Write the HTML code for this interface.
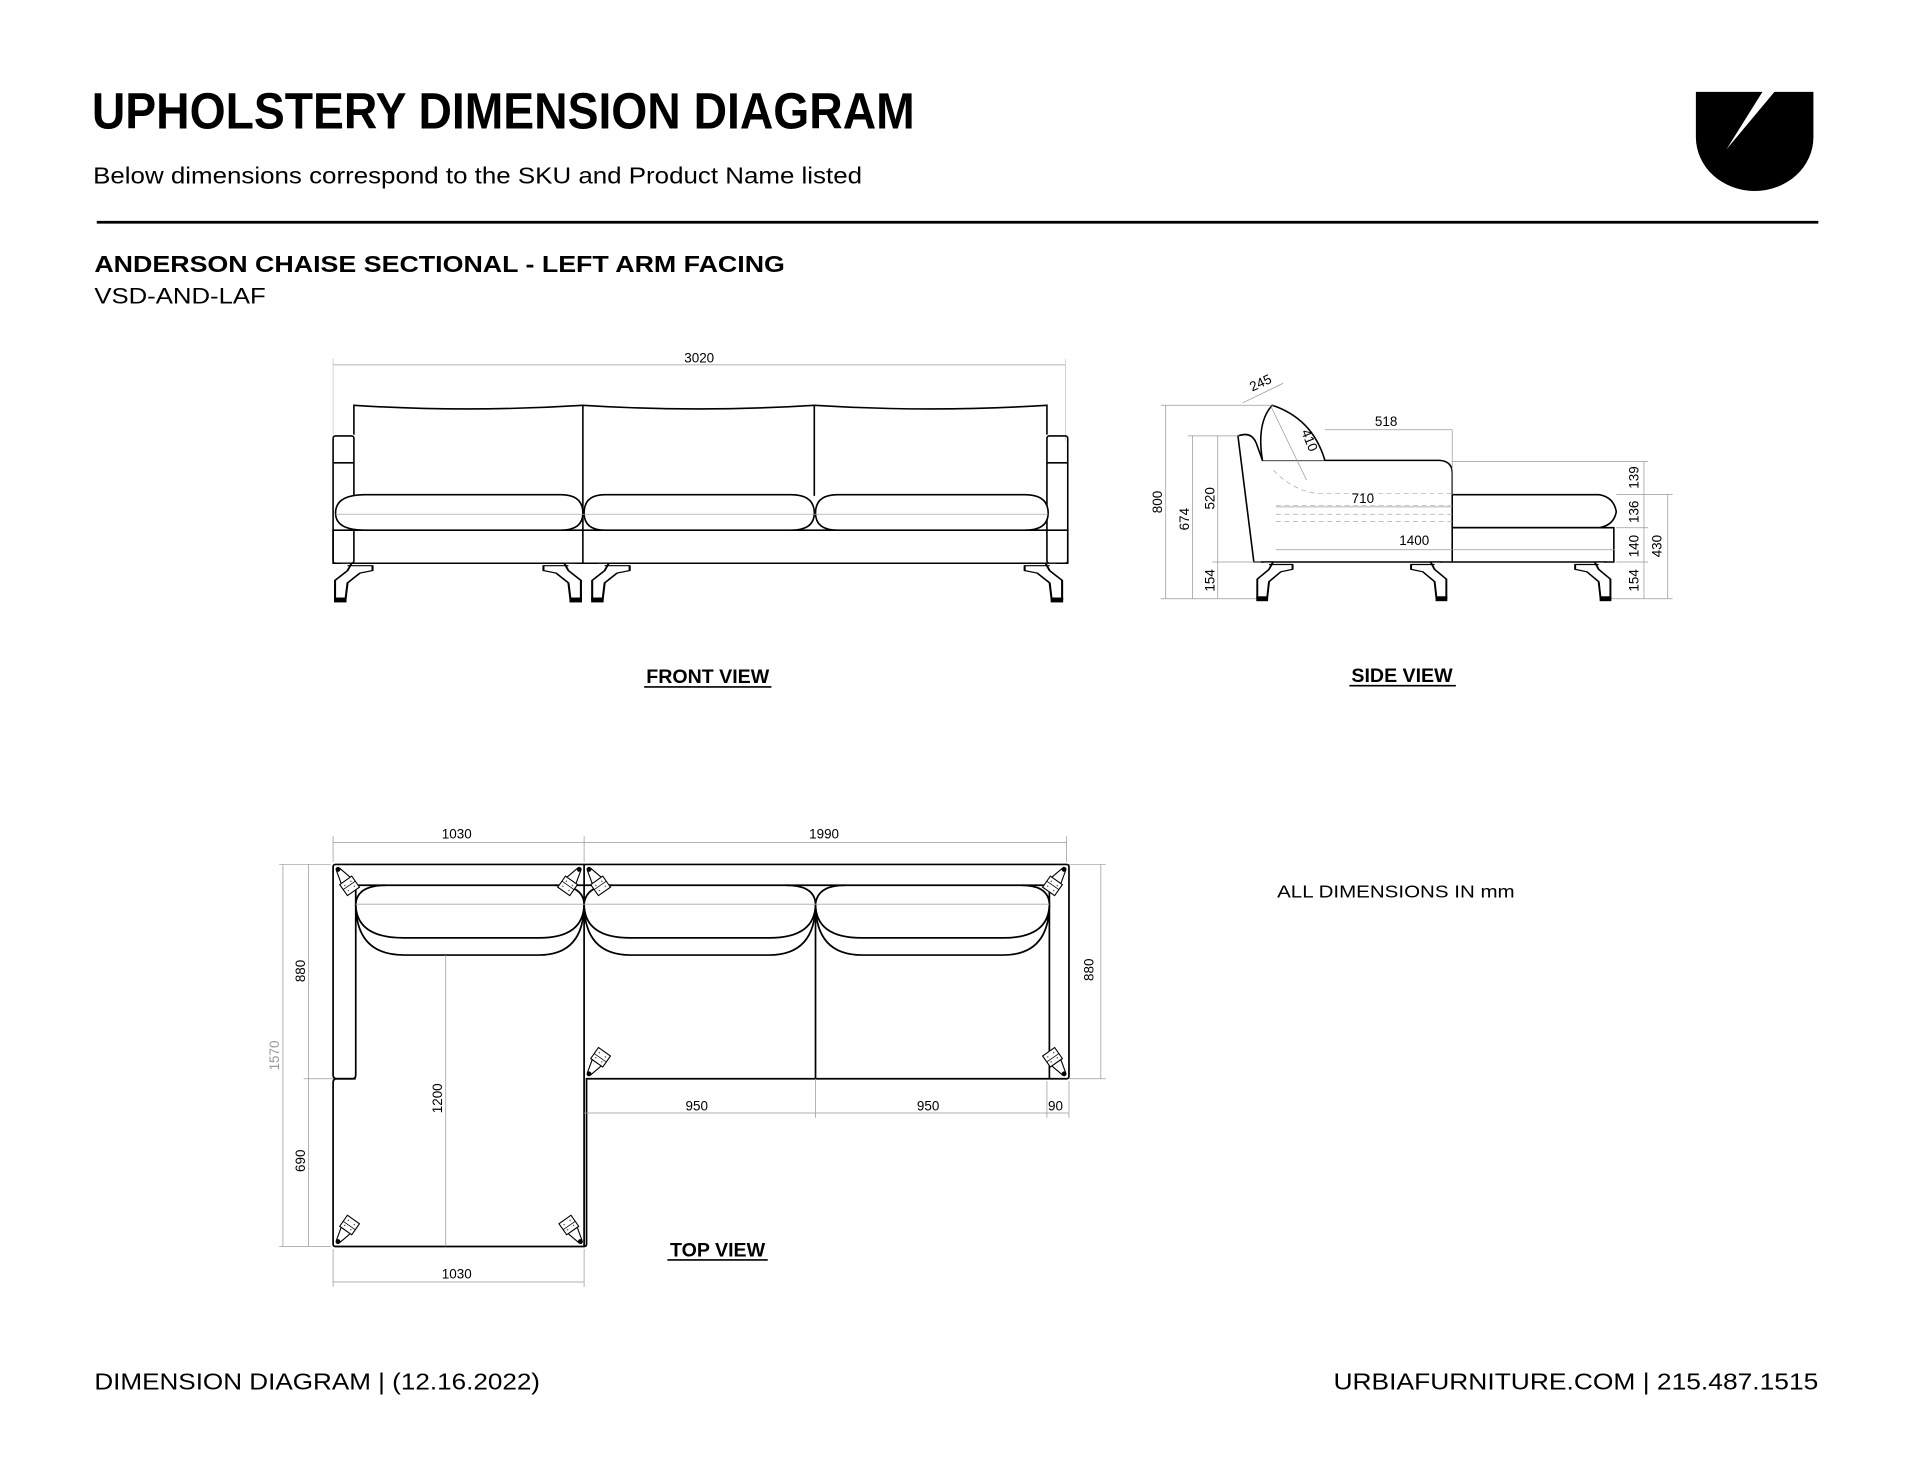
<!DOCTYPE html>
<html><head><meta charset="utf-8"><style>
html,body{margin:0;padding:0;background:#fff;}
svg{display:block;}
text{font-family:"Liberation Sans",sans-serif;}
</style></head><body>
<svg width="1920" height="1484" viewBox="0 0 1568 1212" xmlns="http://www.w3.org/2000/svg">
<defs>
<g id="leg"><circle cx="0" cy="0" r="2" fill="#000"/><path d="M0,-1.6 L11,-4.5 M0,1.6 L11,4.5" stroke="#000" stroke-width="0.9" fill="none"/><rect x="11" y="-6" width="11" height="12" fill="#fff" stroke="#000" stroke-width="0.9"/><line x1="16" y1="-6" x2="16" y2="6" stroke="#000" stroke-width="0.6"/><circle cx="14" cy="-3" r="0.6" fill="#555"/><circle cx="19" cy="3" r="0.6" fill="#555"/><circle cx="19" cy="-3" r="0.6" fill="#555"/><circle cx="14" cy="3" r="0.6" fill="#555"/></g>
<g id="fleg"><path d="M0,0 L6,0 L4,6 L-2,14 L-2,30 L3,30 L4,16 L10,8 L16,6 L16,2 L4,2" fill="#fff" stroke="#000" stroke-width="1.0" stroke-linejoin="round"/><rect x="-2.5" y="28" width="6" height="4" fill="#000"/></g>
</defs>

<!-- header -->
<text x="75" y="105" font-size="42" font-weight="bold" textLength="672" lengthAdjust="spacingAndGlyphs" font-family="Liberation Sans Narrow, Liberation Sans, sans-serif">UPHOLSTERY DIMENSION DIAGRAM</text>
<text x="76" y="150" font-size="19" textLength="628" lengthAdjust="spacingAndGlyphs">Below dimensions correspond to the SKU and Product Name listed</text>
<line x1="79" y1="181.5" x2="1485" y2="181.5" stroke="#000" stroke-width="2.2"/>
<path d="M1385,75 L1481,75 L1481,112 A48,44 0 0 1 1385,112 Z" fill="#000"/>
<path d="M1440,74 L1450,74 L1410,122 Z" fill="#fff"/>
<text x="77" y="222" font-size="18.5" font-weight="bold" textLength="564" lengthAdjust="spacingAndGlyphs">ANDERSON CHAISE SECTIONAL  - LEFT ARM FACING</text>
<text x="77" y="248" font-size="18" textLength="140" lengthAdjust="spacingAndGlyphs">VSD-AND-LAF</text>

<!-- FRONT VIEW -->
<g stroke="#000" fill="none" stroke-width="1.3">
<line x1="272" y1="298" x2="870" y2="298" stroke="#999" stroke-width="0.6"/>
<line x1="272" y1="293" x2="272" y2="360" stroke="#bbb" stroke-width="0.5"/>
<line x1="870" y1="293" x2="870" y2="360" stroke="#bbb" stroke-width="0.5"/>
<path d="M289,355 L289,331 Q380,337 476,331 Q570,337 665,331 Q760,337 855,331 L855,355"/>
<line x1="476" y1="331" x2="476" y2="460"/>
<line x1="665" y1="331" x2="665" y2="405"/>
<rect x="272" y="356" width="17" height="104" rx="2"/>
<rect x="855" y="356" width="17" height="104" rx="2"/>
<line x1="272" y1="378" x2="289" y2="378"/>
<line x1="855" y1="378" x2="872" y2="378"/>
<path d="M272,433 L872,433 L872,460 L272,460 Z"/>
<path d="M298,404 L458,404 Q476,404 476,419 Q476,433 458,433 L298,433 Q274,433 274,419 Q274,404 298,404 Z" fill="#fff"/>
<path d="M494,404 L646,404 Q665,404 665,419 Q665,433 646,433 L494,433 Q477,433 477,419 Q477,404 494,404 Z" fill="#fff"/>
<path d="M684,404 L837,404 Q856,404 856,419 Q856,433 837,433 L684,433 Q666,433 666,419 Q666,404 684,404 Z" fill="#fff"/>
<line x1="274" y1="420" x2="856" y2="420" stroke="#aaa" stroke-width="0.6"/>
</g>
<use href="#fleg" transform="translate(277,460) scale(1.7,1)"/>
<use href="#fleg" transform="translate(471,460) scale(-1.7,1)"/>
<use href="#fleg" transform="translate(487,460) scale(1.7,1)"/>
<use href="#fleg" transform="translate(864,460) scale(-1.7,1)"/>
<text x="571" y="296" font-size="11" text-anchor="middle">3020</text>
<text x="578" y="558" font-size="16" font-weight="bold" text-anchor="middle">FRONT VIEW</text>
<line x1="526" y1="561" x2="630" y2="561" stroke="#000" stroke-width="1.3"/>

<!-- SIDE VIEW -->
<g stroke="#000" fill="none" stroke-width="1.3">
<path d="M1011,356 Q1022,352 1026,362 L1031,376 L1176,376 Q1186,377 1186,386 L1186,459 L1024,459 Z" fill="#fff"/>
<path d="M1031,376 Q1026,345 1039,331 Q1072,342 1082,376" fill="#fff"/>
<path d="M1186,404 L1306,404 Q1318,406 1320,418 Q1318,429 1306,431 L1186,431"/>
<path d="M1186,431 L1318,431 L1318,459 L1186,459"/>
</g>
<g stroke="#aaa" fill="none" stroke-width="0.6" stroke-dasharray="4,3">
<path d="M1042,413 L1186,413"/><path d="M1042,420 L1186,420"/><path d="M1042,426 L1186,426"/>
<path d="M1040,384 Q1055,400 1075,403 L1186,403"/>
</g>
<g stroke="#999" fill="none" stroke-width="0.6">
<line x1="952" y1="331" x2="952" y2="489"/><line x1="948" y1="331" x2="1040" y2="331"/>
<line x1="974" y1="356" x2="974" y2="489"/><line x1="970" y1="356" x2="1012" y2="356"/>
<line x1="994.5" y1="356" x2="994.5" y2="489"/><line x1="990" y1="459" x2="1030" y2="459"/>
<line x1="948" y1="489" x2="1030" y2="489"/>
<line x1="1082" y1="351" x2="1186" y2="351"/><line x1="1186" y1="351" x2="1186" y2="404"/>
<line x1="1042" y1="414" x2="1186" y2="414"/>
<line x1="1042" y1="449" x2="1319" y2="449"/>
<line x1="1342.6" y1="377" x2="1342.6" y2="489"/>
<line x1="1362" y1="404" x2="1362" y2="489"/>
<line x1="1186" y1="377" x2="1346" y2="377"/>
<line x1="1320" y1="404" x2="1366" y2="404"/><line x1="1320" y1="431" x2="1346" y2="431"/>
<line x1="1320" y1="459" x2="1346" y2="459"/><line x1="1314" y1="489" x2="1366" y2="489"/>
<line x1="1015" y1="329" x2="1048" y2="313"/>
<line x1="1038" y1="332" x2="1067" y2="392"/>
</g>
<use href="#fleg" transform="translate(1030,459) scale(1.6,1)"/>
<use href="#fleg" transform="translate(1178,459) scale(-1.6,1)"/>
<use href="#fleg" transform="translate(1312,459) scale(-1.6,1)"/>
<g font-size="11" text-anchor="middle">
<text x="1132" y="348">518</text>
<text x="1113" y="411">710</text>
<text x="1155" y="445">1400</text>
<text transform="translate(1031,316) rotate(-25)">245</text>
<text transform="translate(1066,361) rotate(68)">410</text>
<text transform="translate(949,410) rotate(-90)">800</text>
<text transform="translate(971,424) rotate(-90)">674</text>
<text transform="translate(992,407) rotate(-90)">520</text>
<text transform="translate(992,474) rotate(-90)">154</text>
<text transform="translate(1338,390) rotate(-90)">139</text>
<text transform="translate(1338,418) rotate(-90)">136</text>
<text transform="translate(1338,446) rotate(-90)">140</text>
<text transform="translate(1338,474) rotate(-90)">154</text>
<text transform="translate(1357,446) rotate(-90)">430</text>
</g>
<text x="1145" y="557" font-size="16" font-weight="bold" text-anchor="middle">SIDE VIEW</text>
<line x1="1102" y1="560" x2="1189" y2="560" stroke="#000" stroke-width="1.3"/>

<!-- TOP VIEW -->
<g stroke="#000" fill="none" stroke-width="1.4">
<path d="M274,706 L871,706 Q873,706 873,708 L873,879 Q873,881 871,881 L479,881 L479,1016 Q479,1018 477,1018 L274,1018 Q272,1018 272,1016 L272,884 Q272,881 275,881 L288,881 Q290.5,881 290.5,878 L290.5,723 L857,723 L857,881"/>
<path d="M290.5,881 L275,881 Q272,881 272,878 L272,708 Q272,706 274,706"/>
<line x1="477" y1="706" x2="477" y2="1018"/>
<line x1="666" y1="738" x2="666" y2="881"/>
<path d="M290.5,738 Q292,723 315,723 M453,723 Q476,723 477,738"/>
<path d="M290.5,738 Q290.5,766 330,766 L440,766 Q477,766 477,738 M290.5,738 Q290.5,780 330,780 L440,780 Q477,780 477,738"/>
<path d="M477,738 Q479,723 500,723 M642,723 Q665,723 666,738"/>
<path d="M477,738 Q477,766 515,766 L628,766 Q666,766 666,738 M477,738 Q477,780 515,780 L628,780 Q666,780 666,738"/>
<path d="M666,738 Q668,723 690,723 M834,723 Q856,723 857,738"/>
<path d="M666,738 Q666,766 704,766 L819,766 Q857,766 857,738 M666,738 Q666,780 704,780 L819,780 Q857,780 857,738"/>
</g>
<line x1="290.5" y1="738.5" x2="857" y2="738.5" stroke="#aaa" stroke-width="0.7"/>
<use href="#leg" transform="translate(276,1014) rotate(-55)"/>
<use href="#leg" transform="translate(474,1014) rotate(-125)"/>
<use href="#leg" transform="translate(276,710) rotate(55)"/>
<use href="#leg" transform="translate(473,710) rotate(125)"/>
<use href="#leg" transform="translate(481,710) rotate(55)"/>
<use href="#leg" transform="translate(869,710) rotate(125)"/>
<use href="#leg" transform="translate(481,877) rotate(-55)"/>
<use href="#leg" transform="translate(869,877) rotate(-125)"/>
<g stroke="#999" fill="none" stroke-width="0.6">
<line x1="272" y1="688" x2="871" y2="688"/>
<line x1="272" y1="683" x2="272" y2="704"/><line x1="477" y1="683" x2="477" y2="704"/><line x1="871" y1="683" x2="871" y2="704"/>
<line x1="231" y1="706" x2="231" y2="1018"/><line x1="228" y1="706" x2="270" y2="706"/><line x1="228" y1="1018" x2="270" y2="1018"/>
<line x1="252" y1="706" x2="252" y2="1018"/><line x1="248" y1="881" x2="272" y2="881"/>
<line x1="364" y1="780" x2="364" y2="1018"/>
<line x1="899" y1="706" x2="899" y2="881"/><line x1="873" y1="706" x2="903" y2="706"/><line x1="873" y1="881" x2="903" y2="881"/>
<line x1="477" y1="909" x2="873" y2="909"/><line x1="666" y1="881" x2="666" y2="913"/><line x1="855" y1="883" x2="855" y2="913"/><line x1="873" y1="883" x2="873" y2="913"/>
<line x1="272" y1="1047" x2="477" y2="1047"/><line x1="272" y1="1020" x2="272" y2="1051"/><line x1="477" y1="1020" x2="477" y2="1051"/>
</g>
<g font-size="11" text-anchor="middle">
<text x="373" y="685">1030</text>
<text x="673" y="685">1990</text>
<text x="569" y="907">950</text>
<text x="758" y="907">950</text>
<text x="862" y="907">90</text>
<text x="373" y="1044">1030</text>
<text transform="translate(249,793) rotate(-90)">880</text>
<text transform="translate(249,948) rotate(-90)">690</text>
<text transform="translate(228,862) rotate(-90)" fill="#999">1570</text>
<text transform="translate(361,897) rotate(-90)">1200</text>
<text transform="translate(893,792) rotate(-90)">880</text>
</g>
<text x="586" y="1026" font-size="16" font-weight="bold" text-anchor="middle">TOP VIEW</text>
<line x1="545" y1="1029" x2="627" y2="1029" stroke="#000" stroke-width="1.3"/>

<text x="1043" y="733" font-size="14.5" textLength="194" lengthAdjust="spacingAndGlyphs">ALL DIMENSIONS IN mm</text>

<!-- footer -->
<text x="77" y="1135" font-size="19" textLength="364" lengthAdjust="spacingAndGlyphs">DIMENSION DIAGRAM | (12.16.2022)</text>
<text x="1485" y="1135" font-size="19" text-anchor="end" textLength="396" lengthAdjust="spacingAndGlyphs">URBIAFURNITURE.COM  |  215.487.1515</text>
</svg>
</body></html>
